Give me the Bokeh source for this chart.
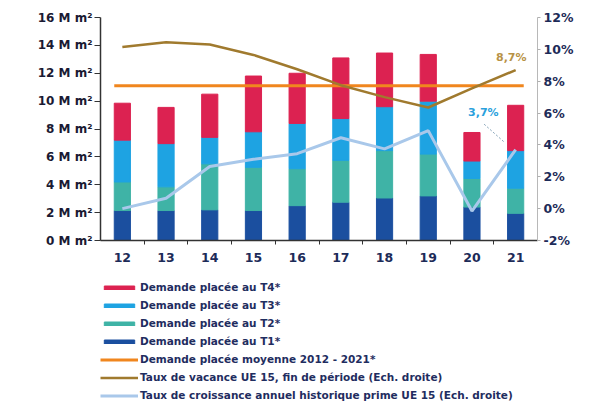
from bokeh.plotting import figure
from bokeh.models import (Range1d, LinearAxis, FixedTicker, Legend, LegendItem,
                          ColumnDataSource)
from bokeh.layouts import column
from bokeh.embed import file_html
from bokeh.resources import INLINE
from bokeh.core.properties import value

# ---------------- data ----------------
categories = ["12", "13", "14", "15", "16", "17", "18", "19", "20", "21"]
demand_t1 = [2.15, 2.15, 2.2, 2.15, 2.5, 2.75, 3.05, 3.2, 2.4, 1.95]
demand_t2 = [2.05, 1.7, 3.3, 3.1, 2.65, 3.0, 3.4, 3.0, 2.05, 1.8]
demand_t3 = [3.0, 3.1, 1.9, 2.55, 3.25, 3.0, 3.15, 3.8, 1.25, 2.7]
demand_t4 = [2.65, 2.6, 3.1, 4.0, 3.6, 4.35, 3.85, 3.35, 2.05, 3.25]
vacancy_rate = [10.15, 10.45, 10.3, 9.65, 8.75, 7.75, 7.0, 6.35, 7.55, 8.7]
rent_growth = [0.0, 0.65, 2.65, 3.1, 3.45, 4.45, 3.75, 4.9, -0.15, 3.7]

left_ticks = [0, 2, 4, 6, 8, 10, 12, 14, 16]
left_labels = ["0 M m²", "2 M m²", "4 M m²", "6 M m²", "8 M m²",
               "10 M m²", "12 M m²", "14 M m²", "16 M m²"]
right_ticks = [-2, 0, 2, 4, 6, 8, 10, 12]
right_labels = ["-2%", "0%", "2%", "4%", "6%", "8%", "10%", "12%"]

legend_labels = [
    "Demande placée au T4*",
    "Demande placée au T3*",
    "Demande placée au T2*",
    "Demande placée au T1*",
    "Demande placée moyenne 2012 - 2021*",
    "Taux de vacance UE 15, fin de période (Ech. droite)",
    "Taux de croissance annuel historique prime UE 15 (Ech. droite)",
]
vacancy_label = "8,7%"
growth_label = "3,7%"

# ---------------- styling ----------------
C_T4 = "#dc2251"
C_T3 = "#1ea3e2"
C_T2 = "#3fb3a6"
C_T1 = "#1b4f9f"
C_AVG = "#f0861e"
C_VAC = "#a07a2e"
C_GROW = "#a9c8ea"
NAVY = "#1d2b58"
FONT = "DejaVu Sans"

n = len(categories)
xs = list(range(1, n + 1))
bar_w = 0.37

totals = [a + b + c + d for a, b, c, d in zip(demand_t1, demand_t2, demand_t3, demand_t4)]
avg = sum(totals) / n

src = ColumnDataSource(dict(x=xs, t1=demand_t1, t2=demand_t2, t3=demand_t3,
                            t4=demand_t4, vac=vacancy_rate, grow=rent_growth,
                            avg=[avg] * n))

# ---------------- main chart ----------------
p = figure(frame_width=437, frame_height=223, output_backend="svg",
           toolbar_location=None,
           x_range=Range1d(0.5, n + 0.5), y_range=Range1d(0, 16),
           min_border_left=100, min_border_top=17, min_border_right=50,
           min_border_bottom=41)
p.extra_y_ranges = {"pct": Range1d(-2, 12)}
p.outline_line_color = None
p.grid.visible = False
p.background_fill_color = "white"
p.border_fill_color = "white"

p.vbar_stack(["t1", "t2", "t3", "t4"], x="x", width=bar_w,
             color=[C_T1, C_T2, C_T3, C_T4], source=src)

p.line([xs[0] - bar_w / 2, xs[-1] + bar_w / 2], [avg, avg],
       line_color=C_AVG, line_width=3)

p.line("x", "vac", source=src, y_range_name="pct",
       line_color=C_VAC, line_width=2.5)
p.line("x", "grow", source=src, y_range_name="pct",
       line_color=C_GROW, line_width=3)

p.text(x=[xs[-1] - 0.1], y=[vacancy_rate[-1] + 0.76], text=[vacancy_label],
       y_range_name="pct", text_align="center", text_baseline="middle",
       text_font=value(FONT), text_font_size="11px", text_font_style="bold",
       text_color="#b89245")
p.text(x=[xs[-1] - 0.74], y=[rent_growth[-1] + 2.35], text=[growth_label],
       y_range_name="pct", text_align="center", text_baseline="middle",
       text_font=value(FONT), text_font_size="11px", text_font_style="bold",
       text_color="#2aa0dc")
p.segment(x0=[xs[-1] - 0.72], y0=[rent_growth[-1] + 1.6],
          x1=[xs[-1] - 0.25], y1=[rent_growth[-1] + 0.45],
          y_range_name="pct", line_color="#7f9fb5", line_width=1,
          line_dash="2 2")

xa = p.xaxis[0]
xa.ticker = FixedTicker(ticks=xs, minor_ticks=[x + 0.5 for x in xs[:-1]])
xa.major_label_overrides = {x: c for x, c in zip(xs, categories)}
xa.major_tick_out = 0
xa.major_tick_in = 0
xa.minor_tick_out = 4
xa.minor_tick_in = 0
xa.minor_tick_line_color = "#333333"
xa.axis_line_color = "#333333"
xa.axis_line_width = 1.5
xa.major_label_standoff = 8
xa.major_label_text_font = FONT
xa.major_label_text_font_style = "bold"
xa.major_label_text_font_size = "12.5px"
xa.major_label_text_color = NAVY

ya = p.yaxis[0]
ya.ticker = FixedTicker(ticks=left_ticks)
ya.major_label_overrides = {t: l for t, l in zip(left_ticks, left_labels)}
ya.minor_tick_line_color = None
ya.major_tick_out = 6
ya.major_tick_in = 0
ya.major_tick_line_color = "#333333"
ya.axis_line_color = "#333333"
ya.axis_line_width = 1.5
ya.major_label_standoff = 2
ya.major_label_text_font = FONT
ya.major_label_text_font_style = "bold"
ya.major_label_text_font_size = "12px"
ya.major_label_text_color = "#1a1a33"

ra = LinearAxis(y_range_name="pct", ticker=FixedTicker(ticks=right_ticks))
ra.major_label_overrides = {t: l for t, l in zip(right_ticks, right_labels)}
ra.minor_tick_line_color = None
ra.major_tick_out = 3
ra.major_tick_in = 0
ra.major_tick_line_color = "#b0b0b0"
ra.axis_line_color = "#b8b8b8"
ra.major_label_standoff = 3
ra.major_label_text_font = FONT
ra.major_label_text_font_style = "bold"
ra.major_label_text_font_size = "12.5px"
ra.major_label_text_color = NAVY
p.add_layout(ra, "right")

# ---------------- legend strip ----------------
lg = figure(width=587, height=122, output_backend="svg", toolbar_location=None,
            x_range=Range1d(0.5, n + 0.5), y_range=Range1d(0, 16),
            x_axis_location=None, y_axis_location=None,
            min_border_left=97, min_border_top=0, min_border_right=0,
            min_border_bottom=0)
lg.outline_line_color = None
lg.grid.visible = False
lg.border_fill_color = "white"

# hidden renderers (same data) that only provide the legend swatches
swatches = [
    lg.vbar(x="x", top="t4", width=bar_w, color=C_T4, source=src),
    lg.vbar(x="x", top="t3", width=bar_w, color=C_T3, source=src),
    lg.vbar(x="x", top="t2", width=bar_w, color=C_T2, source=src),
    lg.vbar(x="x", top="t1", width=bar_w, color=C_T1, source=src),
    lg.line(x="x", y="avg", line_color=C_AVG, line_width=3, source=src),
    lg.line(x="x", y="vac", line_color=C_VAC, line_width=2.5, source=src),
    lg.line(x="x", y="grow", line_color=C_GROW, line_width=3, source=src),
]
for r in swatches:
    r.visible = False

legend = Legend(items=[LegendItem(label=lab, renderers=[r])
                       for lab, r in zip(legend_labels, swatches)],
                location="top_left", orientation="vertical",
                glyph_width=38, glyph_height=5, label_height=12, spacing=6,
                padding=0, margin=0, border_line_color=None,
                background_fill_alpha=0, inactive_fill_alpha=0,
                label_text_font=FONT, label_text_font_style="bold",
                label_text_font_size="10.5px", label_text_color="#1f2d60",
                label_standoff=2)
lg.add_layout(legend)

layout = column(p, lg, spacing=0)
open("out.html", "w").write(file_html(layout, INLINE))
